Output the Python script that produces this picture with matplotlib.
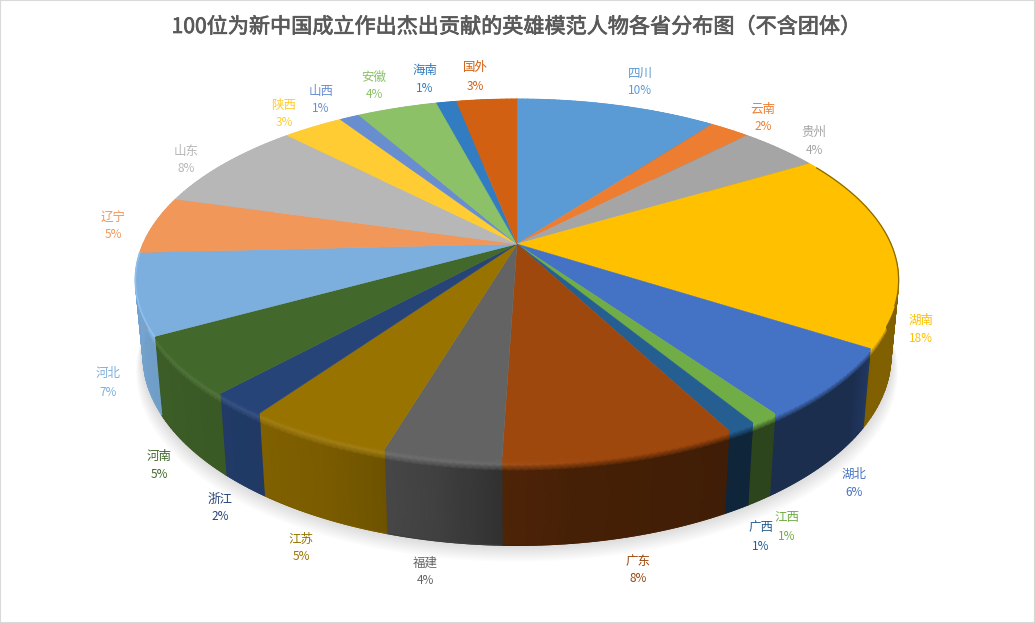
import matplotlib
matplotlib.use("Agg")
import matplotlib.pyplot as plt
import matplotlib.colors as mcolors
import matplotlib.patheffects as path_effects
import numpy as np

plt.rcParams['font.family'] = ['Noto Sans CJK SC', 'DejaVu Sans']

title = "100位为新中国成立作出杰出贡献的英雄模范人物各省分布图（不含团体）"

provinces = ["四川", "云南", "贵州", "湖南", "湖北", "江西", "广西", "广东", "福建", "江苏",
             "浙江", "河南", "河北", "辽宁", "山东", "陕西", "山西", "安徽", "海南", "国外"]
counts = [10, 2, 4, 17, 6, 1, 1, 8, 4, 5, 2, 5, 7, 5, 8, 3, 1, 4, 1, 3]

colors = ["#5B9BD5", "#ED7D31", "#A5A5A5", "#FFC000", "#4472C4", "#70AD47", "#255E91", "#9E480E",
          "#636363", "#997300", "#264478", "#43682B", "#7CAFDD", "#F1975A", "#B7B7B7", "#FFCD33",
          "#698ED0", "#8CC168", "#327DC2", "#D26012"]

# label centres in pixels: x, y of name, y of percent
label_x = [640, 763, 814, 921, 854, 787, 761, 638, 425, 301, 220, 159, 108, 113, 186, 284, 321, 374, 425, 475]
label_y = [73, 109, 132, 320, 474, 518, 528, 561, 563, 539, 499, 456, 374, 217, 151, 105, 91, 77, 70, 68]
pct_gap = 18

# side shading, going clockwise from 12 o'clock
shade_ang = [0, 60, 100, 122, 128, 150, 172, 182, 190, 205, 218, 232, 255, 280, 360]
shade_val = [.5, .5, .5, .5, .40, .40, .44, .5, .65, .8, .85, .88, .93, .95, .95]
light_ang = [0, 170, 185, 200, 240, 280, 360]
light_val = [0, 0, .06, .09, .09, .12, .12]

# perspective of the pie disc
cx, cy = 517, 244
a, b, k = 374, 173.8, 0.199


def top_rim(theta):
    u = np.sin(np.radians(theta))
    v = np.cos(np.radians(theta))
    w = 1 + k * v
    return cx + a * u / w, cy - b * v / w


def bottom_rim(theta):
    x, y = top_rim(theta)
    return cx + 0.98 * (x - cx), y + 74 + 0.048 * (y - cy)


total = sum(counts)
edges = np.concatenate([[0], np.cumsum(counts)]) / total * 360

fig = plt.figure(figsize=(10.35, 6.23), dpi=100)
ax = fig.add_axes([0, 0, 1, 1])
ax.set_xlim(0, 1035)
ax.set_ylim(623, 0)
ax.set_xticks([])
ax.set_yticks([])
for s in ax.spines.values():
    s.set_color("#D9D9D9")
    s.set_linewidth(1.5)

# soft shadow under the pie
all_ang = np.linspace(0, 360, 361)
bx, by = bottom_rim(all_ang)
for d in np.arange(1, 24, 2):
    sx = cx + (bx - cx) * (1 + d * 0.0008)
    sy = by + d * 0.7
    ax.fill(sx, sy, color="#7F7F7F", alpha=0.024, lw=0, zorder=1)

# side of the pie
ramp = np.array([0, 0.045, 0.12, 1])
for i in range(len(counts)):
    n = max(int(edges[i + 1] - edges[i]) + 2, 3)
    ang = np.linspace(edges[i], edges[i + 1], n)
    tx, ty = top_rim(ang)
    lx, ly = bottom_rim(ang)
    X = np.outer(1 - ramp, tx) + np.outer(ramp, lx)
    Y = np.outer(1 - ramp, ty) + np.outer(ramp, ly)
    base = np.array(mcolors.to_rgb(colors[i]))
    shade = np.interp(ang, shade_ang, shade_val)
    light = np.interp(ang, light_ang, light_val)
    C = np.zeros((len(ramp), n, 3))
    for j in range(n):
        side = base * shade[j]
        C[0, j] = base
        C[1, j] = base + (1 - base) * light[j]
        C[2, j] = side
        C[3, j] = side
    ax.pcolormesh(X, Y, C, shading="gouraud", zorder=2)
    # smooth the lower edge
    ax.plot(lx, ly, color=base * shade.mean(), lw=0.8, zorder=2.5)

# top face
for i in range(len(counts)):
    n = max(int(edges[i + 1] - edges[i]) * 2 + 2, 3)
    ang = np.linspace(edges[i], edges[i + 1], n)
    tx, ty = top_rim(ang)
    ax.fill(np.r_[cx, tx], np.r_[cy, ty], color=colors[i], lw=0.3, zorder=3)

# dark edge along the upper right rim, light one on the left
ang = np.linspace(edges[3] + 2, edges[3] + 50, 60)
tx, ty = top_rim(ang)
ax.plot(tx, ty, color="#8A6A00", lw=0.9, zorder=3.2)
ang = np.linspace(edges[12], edges[13], 40)
tx, ty = top_rim(ang)
ax.plot(tx, ty, color="#8FC0F0", lw=1.2, zorder=3.2)

ax.text(511.5 + 5, 27, title, ha="center", va="center", fontsize=15.2, color="#595959", zorder=5,
        path_effects=[path_effects.withStroke(linewidth=0.5, foreground="#595959")])

for i in range(len(counts)):
    ax.text(label_x[i], label_y[i], provinces[i], ha="center", va="center", fontsize=9,
            color=colors[i], zorder=5)
    ax.text(label_x[i], label_y[i] + pct_gap, f"{round(100 * counts[i] / total)}%", ha="center",
            va="center", fontsize=8.5, color=colors[i], zorder=5)

fig.savefig("out.png", dpi=100, facecolor="white")
